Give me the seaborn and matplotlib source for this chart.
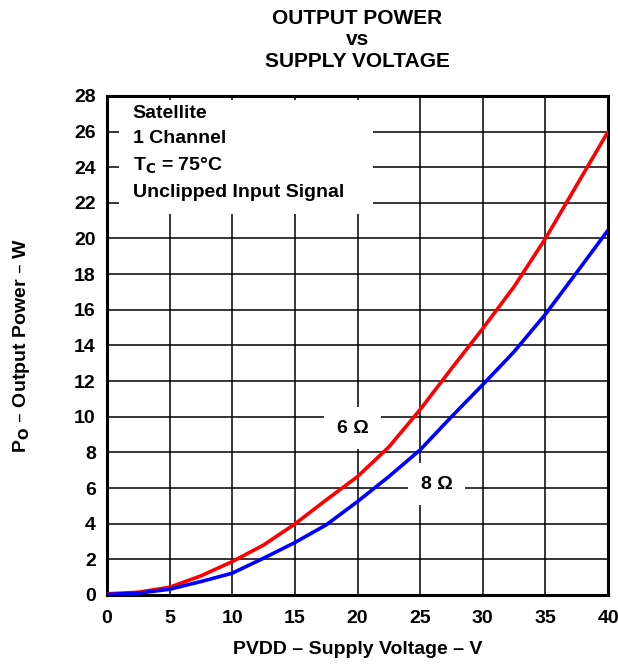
import pandas as pd
import matplotlib
matplotlib.use("Agg")
import matplotlib.pyplot as plt
from matplotlib.patches import Rectangle
import seaborn as sns

# supply voltage (V)
pvdd = [0, 2.5, 5, 7.5, 10, 12.5, 15, 17.5, 20, 22.5, 25, 27.5, 30, 32.5, 35, 37.5, 40]
# output power (W)
p_6ohm = [0.06, 0.15, 0.43, 1.07, 1.87, 2.8, 3.98, 5.33, 6.64, 8.3, 10.4, 12.7, 14.95, 17.3, 20.0, 23.0, 26.0]
p_8ohm = [0.03, 0.1, 0.32, 0.75, 1.22, 2.06, 2.94, 3.93, 5.24, 6.64, 8.14, 10.0, 11.8, 13.65, 15.75, 18.1, 20.47]

x_ticks = [0, 5, 10, 15, 20, 25, 30, 35, 40]
y_ticks = list(range(0, 29, 2))

df = pd.DataFrame({
    'pvdd': pvdd * 2,
    'power': p_6ohm + p_8ohm,
    'load': ['6'] * len(pvdd) + ['8'] * len(pvdd),
})

sns.set_style("white")
plt.rcParams['font.family'] = ['Liberation Sans', 'DejaVu Sans']
plt.rcParams['font.weight'] = 'bold'
plt.rcParams['mathtext.default'] = 'bf'
plt.rcParams['text.color'] = 'black'
plt.rcParams['axes.labelcolor'] = 'black'
plt.rcParams['xtick.color'] = 'black'
plt.rcParams['ytick.color'] = 'black'

fs = 14

fig = plt.figure(figsize=(6.18, 6.64), dpi=100)
ax = fig.add_axes([0.173, 0.104, 0.811, 0.7516])

sns.lineplot(data=df, x='pvdd', y='power', hue='load',
             palette={'6': '#ff0000', '8': '#0000ff'},
             linewidth=2.6, legend=False, ax=ax, zorder=5)

ax.set_xlim(0, 40)
ax.set_ylim(0, 28)
ax.set_xticks(x_ticks)
ax.set_yticks(y_ticks)
ax.grid(True, color='black', linewidth=1.1)
ax.set_axisbelow(True)
for s in ax.spines.values():
    s.set_color('black')
    s.set_linewidth(2.2)
ax.tick_params(length=0, labelsize=fs, pad=8)
ax.tick_params(axis='x', pad=11)
for lbl in ax.get_xticklabels() + ax.get_yticklabels():
    lbl.set_fontweight('bold')

ax.set_xlabel('PVDD – Supply Voltage – V', fontsize=fs, fontweight='bold', labelpad=10)
ax.set_ylabel(r'P$_\mathbf{O}$ – Output Power – W', fontsize=fs, fontweight='bold', labelpad=30)

fig.text(0.578, 0.987, 'OUTPUT POWER\nvs\nSUPPLY VOLTAGE', ha='center', va='top',
         fontsize=15, fontweight='bold', linespacing=1.17)

# white panel behind the conditions text (covers the grid, not the frame)
ax.add_patch(Rectangle((1.0, 21.4), 20.2, 6.35, facecolor='white', edgecolor='none', zorder=1))
ax.text(2.05, 24.8, 'Satellite\n1 Channel\n' + r'T$_\mathbf{C}$ = 75°C' + '\nUnclipped Input Signal',
        ha='left', va='center', fontsize=fs, fontweight='bold', linespacing=1.6, zorder=4)

ax.text(19.6, 9.35, '6 Ω', ha='center', va='center', fontsize=fs, fontweight='bold',
        bbox=dict(facecolor='white', edgecolor='none', pad=9), zorder=2)
ax.text(26.3, 6.2, '8 Ω', ha='center', va='center', fontsize=fs, fontweight='bold',
        bbox=dict(facecolor='white', edgecolor='none', pad=9), zorder=2)

fig.savefig('out.png', dpi=100)
